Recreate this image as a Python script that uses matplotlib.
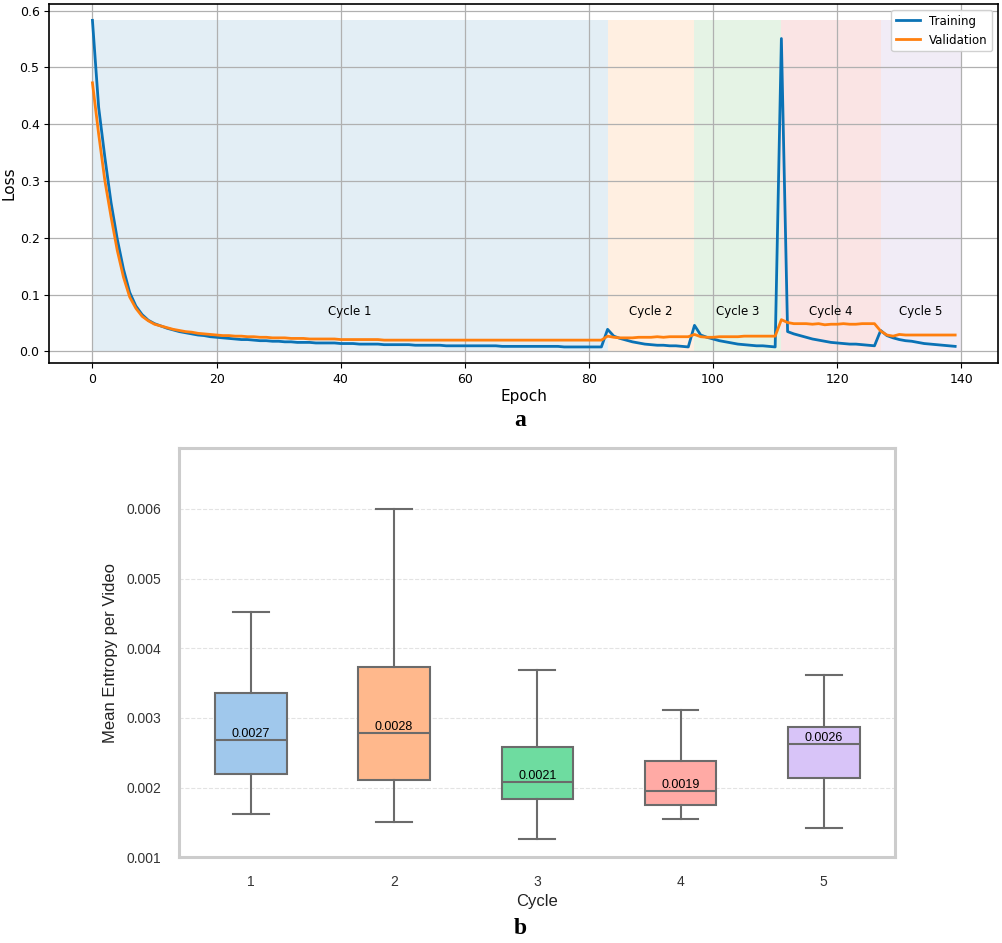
import matplotlib
matplotlib.use('Agg')
import matplotlib.pyplot as plt

# ---- data: loss curves ----
epochs = list(range(140))
train_loss = [
    0.583, 0.430, 0.342, 0.262, 0.198, 0.145, 0.104, 0.080, 0.065, 0.055,
    0.049, 0.045, 0.041, 0.038, 0.035, 0.033, 0.031, 0.029, 0.028, 0.026,
    0.025, 0.024, 0.023, 0.022, 0.021, 0.021, 0.020, 0.019, 0.019, 0.018,
    0.018, 0.017, 0.017, 0.016, 0.016, 0.016, 0.015, 0.015, 0.015, 0.015,
    0.014, 0.014, 0.014, 0.013, 0.013, 0.013, 0.013, 0.012, 0.012, 0.012,
    0.012, 0.012, 0.011, 0.011, 0.011, 0.011, 0.011, 0.010, 0.010, 0.010,
    0.010, 0.010, 0.010, 0.010, 0.010, 0.010, 0.009, 0.009, 0.009, 0.009,
    0.009, 0.009, 0.009, 0.009, 0.009, 0.009, 0.008, 0.008, 0.008, 0.008,
    0.008, 0.008, 0.008,
    # cycle 2
    0.039, 0.027, 0.023, 0.020, 0.017, 0.015, 0.013, 0.012, 0.011, 0.011,
    0.010, 0.010, 0.009, 0.008,
    # cycle 3
    0.046, 0.029, 0.025, 0.022, 0.019, 0.017, 0.015, 0.013, 0.012, 0.011,
    0.010, 0.010, 0.009, 0.008,
    # cycle 4
    0.551, 0.035, 0.031, 0.028, 0.025, 0.022, 0.020, 0.018, 0.016, 0.015,
    0.014, 0.013, 0.013, 0.012, 0.011, 0.010,
    # cycle 5
    0.037, 0.028, 0.024, 0.021, 0.019, 0.018, 0.016, 0.014, 0.013, 0.012,
    0.011, 0.010, 0.009,
]
val_loss = [
    0.473, 0.383, 0.301, 0.237, 0.178, 0.131, 0.096, 0.076, 0.062, 0.054,
    0.048, 0.045, 0.042, 0.039, 0.037, 0.035, 0.034, 0.032, 0.031, 0.030,
    0.029, 0.028, 0.028, 0.027, 0.027, 0.026, 0.026, 0.025, 0.025, 0.024,
    0.024, 0.024, 0.023, 0.023, 0.023, 0.022, 0.022, 0.022, 0.022, 0.022,
    0.021, 0.021, 0.021, 0.021, 0.021, 0.021, 0.021, 0.020, 0.020, 0.020,
    0.020, 0.020, 0.020, 0.020, 0.020, 0.020, 0.020, 0.020, 0.020, 0.020,
    0.020, 0.020, 0.020, 0.020, 0.020, 0.020, 0.020, 0.020, 0.020, 0.020,
    0.020, 0.020, 0.020, 0.020, 0.020, 0.020, 0.020, 0.020, 0.020, 0.020,
    0.020, 0.020, 0.020,
    # cycle 2
    0.027, 0.025, 0.024, 0.024, 0.024, 0.025, 0.025, 0.025, 0.026, 0.025,
    0.026, 0.026, 0.026, 0.026,
    # cycle 3
    0.030, 0.026, 0.025, 0.025, 0.026, 0.026, 0.026, 0.026, 0.027, 0.027,
    0.027, 0.027, 0.027, 0.027,
    # cycle 4
    0.056, 0.051, 0.049, 0.049, 0.049, 0.048, 0.049, 0.047, 0.048, 0.048,
    0.049, 0.048, 0.048, 0.049, 0.049, 0.049,
    # cycle 5
    0.036, 0.029, 0.027, 0.030, 0.029, 0.029, 0.029, 0.029, 0.029, 0.029,
    0.029, 0.029, 0.029,
]
cycle_bounds = [0, 83, 97, 111, 127, 140]
cycle_names = ['Cycle 1', 'Cycle 2', 'Cycle 3', 'Cycle 4', 'Cycle 5']
cycle_colors = ['tab:blue', 'tab:orange', 'tab:green', 'tab:red', 'tab:purple']

# ---- data: entropy box plot per cycle ----
box_cycles = ['1', '2', '3', '4', '5']
box_whislo = [0.00162, 0.00151, 0.00126, 0.00155, 0.00142]
box_q1 = [0.00220, 0.00211, 0.00184, 0.00175, 0.00214]
box_med = [0.00268, 0.00279, 0.00208, 0.00195, 0.00262]
box_q3 = [0.00336, 0.00373, 0.00259, 0.00238, 0.00287]
box_whishi = [0.00452, 0.00600, 0.00369, 0.00312, 0.00362]
box_colors = ['#a0c8ec', '#ffb88c', '#6edca0', '#ffaaa5', '#d8c4f8']

W, H = 1003, 943
fig = plt.figure(figsize=(W / 100, H / 100), dpi=100)

# ===== panel a: loss curves =====
ax1 = fig.add_axes([49.3 / W, 1 - 363.3 / H, 949 / W, 359.3 / H])
top = max(train_loss)
for i in range(len(cycle_names)):
    x0, x1 = cycle_bounds[i], cycle_bounds[i + 1]
    ax1.fill_between([x0, x1], 0, top, color=cycle_colors[i], alpha=0.12, lw=0)
    ax1.text((x0 + x1) / 2, 0.07, cycle_names[i], ha='center', va='center', fontsize=8.5)

ax1.plot(epochs, train_loss, color='#0a72b5', lw=2, label='Training')
ax1.plot(epochs, val_loss, color='#ff7f0e', lw=2, label='Validation')
ax1.set_xlim(-6.95, 145.95)
ax1.set_ylim(-0.0208, 0.6118)
ax1.set_xticks([0, 20, 40, 60, 80, 100, 120, 140])
ax1.set_yticks([0.0, 0.1, 0.2, 0.3, 0.4, 0.5, 0.6])
ax1.grid(True, color='#b0b0b0', lw=0.9)
ax1.tick_params(labelsize=9)
ax1.set_xlabel('Epoch', fontsize=11, labelpad=2)
ax1.set_ylabel('Loss', fontsize=11, labelpad=2)
for s in ax1.spines.values():
    s.set_linewidth(1.2)
ax1.legend(loc='upper right', fontsize=8.5, framealpha=0.9)

# ===== panel b: box plot =====
ax2 = fig.add_axes([179.3 / W, 1 - 857.3 / H, 716 / W, 409 / H])
stats = []
for i in range(len(box_cycles)):
    stats.append({'whislo': box_whislo[i], 'q1': box_q1[i], 'med': box_med[i],
                  'q3': box_q3[i], 'whishi': box_whishi[i], 'fliers': []})
edge = '#6b6b6b'
bp = ax2.bxp(stats, positions=range(len(box_cycles)), widths=0.5, patch_artist=True,
             showfliers=False,
             boxprops=dict(edgecolor=edge, linewidth=1.5),
             whiskerprops=dict(color=edge, linewidth=1.5),
             capprops=dict(color=edge, linewidth=1.5),
             medianprops=dict(color=edge, linewidth=1.5))
for patch, c in zip(bp['boxes'], box_colors):
    patch.set_facecolor(c)
for i, m in enumerate(box_med):
    ax2.text(i, m, f'{m:.4f}', ha='center', va='bottom', fontsize=9,
             family='Liberation Sans')

ax2.set_xlim(-0.5, 4.5)
ax2.set_ylim(0.001, 0.00687)
ax2.set_xticks(range(len(box_cycles)))
ax2.set_xticklabels(box_cycles)
ax2.set_yticks([0.001, 0.002, 0.003, 0.004, 0.005, 0.006])
ax2.yaxis.grid(True, color='#e3e3e3', linestyle='--', lw=0.8)
ax2.set_axisbelow(True)
ax2.tick_params(length=0, pad=13, labelsize=10, labelcolor='#333333')
for lab in ax2.get_xticklabels() + ax2.get_yticklabels():
    lab.set_family('Liberation Sans')
ax2.set_xlabel('Cycle', fontsize=12, family='Liberation Sans', color='#222222', labelpad=3)
ax2.set_ylabel('Mean Entropy per Video', fontsize=12, family='Liberation Sans',
               color='#222222', labelpad=6)
for s in ax2.spines.values():
    s.set_color('#cccccc')
    s.set_linewidth(2.2)

# panel letters
fig.text(520 / W, 1 - 420 / H, 'a', ha='center', va='center', fontsize=17,
         fontweight='bold', family='Liberation Serif')
fig.text(520 / W, 1 - 929 / H, 'b', ha='center', va='center', fontsize=17,
         fontweight='bold', family='Liberation Serif')

fig.savefig('out.png', dpi=100)
